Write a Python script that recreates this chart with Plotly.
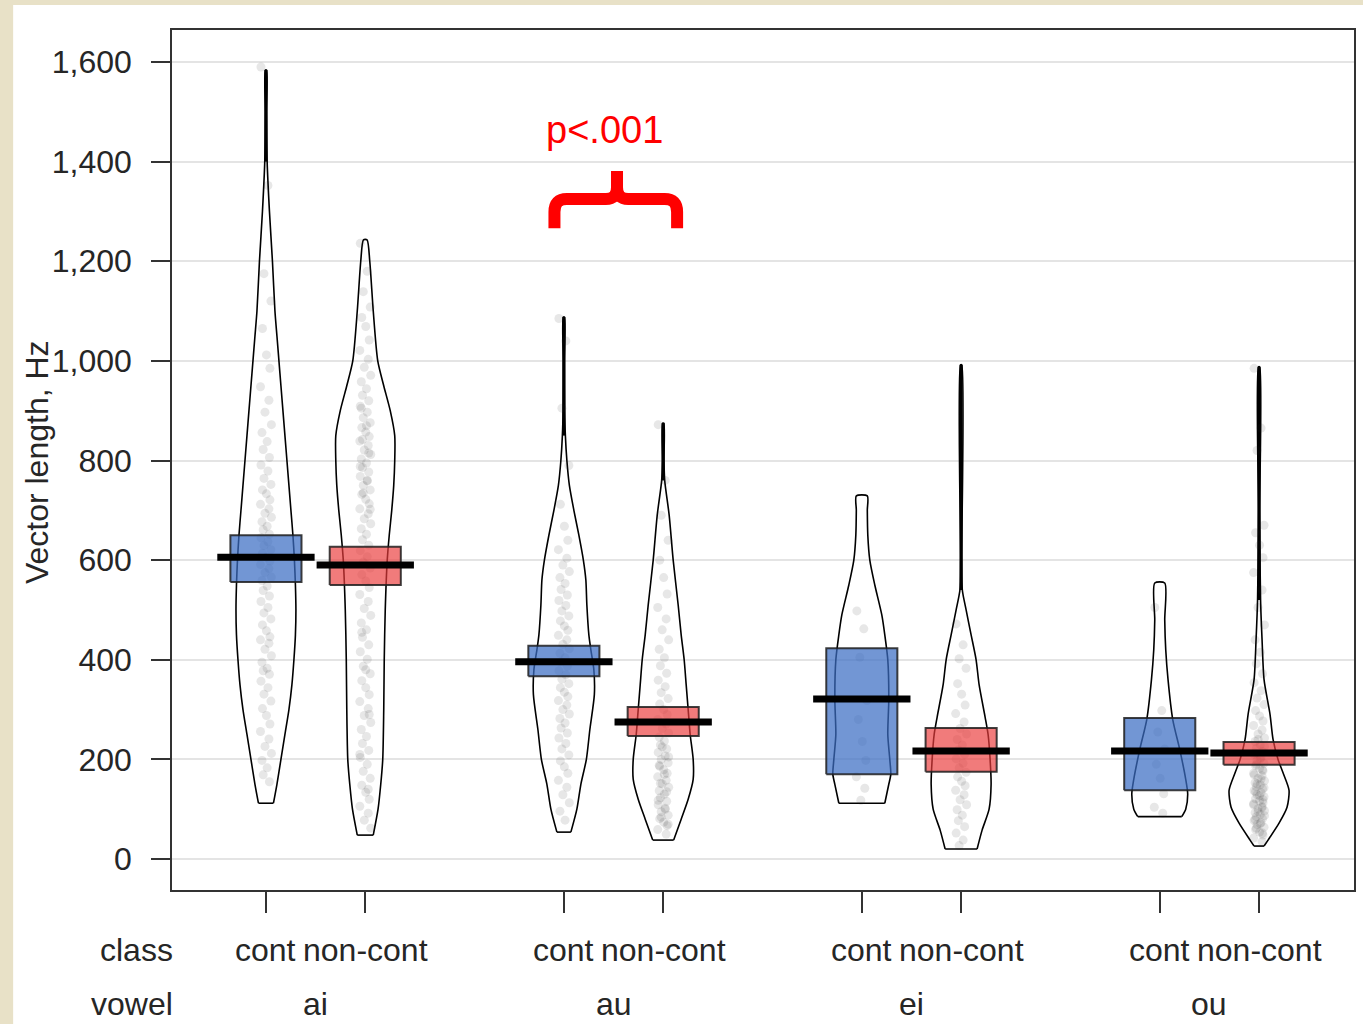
import plotly.graph_objects as go

# ---------------- data ----------------
vowels = ["ai", "au", "ei", "ou"]
classes = ["cont", "non-cont"]
positions = [1, 2, 4, 5, 7, 8, 10, 11]
group_class = ["cont", "non-cont"] * 4

box_low = [556, 550, 367, 247, 170, 175, 138, 189]
box_high = [650, 627, 428, 305, 423, 263, 283, 235]
means = [606, 590, 396, 275, 321, 217, 217, 213]

# violin (bean) density profiles: value levels and half-widths (density, in px-equivalents)
ai_cont_y = [112, 150, 200, 250, 300, 350, 400, 450, 500, 550, 600, 650, 700, 750, 800, 850, 900, 950, 1000, 1050, 1100, 1200, 1300, 1400, 1500, 1584]
ai_cont_d = [7.5, 11, 15, 19, 23, 26, 28, 29.5, 30, 29.5, 28.5, 27, 25, 23, 21, 19, 17, 15, 13, 11, 9, 6.5, 3.5, 1.2, 0.7, 0.6]
ai_non_y = [48, 100, 150, 200, 300, 400, 500, 600, 650, 700, 750, 800, 850, 900, 950, 1000, 1100, 1200, 1243]
ai_non_d = [8, 12.8, 15.5, 17.5, 18.5, 19, 20, 22, 24, 26.5, 28.5, 29.5, 29.5, 25, 18.5, 12.5, 8, 4.5, 1.8]
au_cont_y = [54, 100, 150, 200, 260, 330, 380, 420, 450, 510, 560, 600, 650, 700, 750, 800, 850, 900, 1000, 1088]
au_cont_d = [7, 13, 17, 22.5, 26, 30.5, 30, 27, 25, 23, 22, 19.5, 15, 10, 5.5, 3, 1.5, 0.8, 0.6, 0.6]
au_non_y = [38, 80, 120, 160, 200, 250, 300, 350, 400, 450, 510, 600, 690, 760, 800, 875]
au_non_d = [10.5, 18, 25, 30, 30, 27, 25, 23, 21, 18, 15, 10, 6, 1.5, 0.8, 0.6]
ei_cont_y = [112, 150, 170, 200, 250, 320, 400, 450, 490, 550, 600, 650, 700, 729]
ei_cont_d = [23, 27, 29, 28, 26, 27, 26, 23, 20, 13, 8, 6, 5.5, 5.5]
ei_non_y = [20, 58, 100, 150, 200, 250, 285, 350, 400, 450, 500, 540, 600, 992]
ei_non_d = [16, 21, 28, 30, 29, 27, 24, 18, 15, 10, 5, 1.2, 0.6, 0.6]
ou_cont_y = [85, 100, 130, 160, 220, 280, 360, 420, 480, 554]
ou_cont_d = [22, 26, 28, 26, 20, 13, 8.3, 6, 5, 5]
ou_non_y = [26, 38, 72, 104, 138, 173, 200, 240, 290, 360, 440, 520, 620, 700, 988]
ou_non_d = [5, 9, 20, 28, 30, 24, 19, 14, 11, 5, 3, 1.5, 0.9, 0.6, 0.6]

ai_cont_pts = [1590, 1352, 1175, 1120, 1065, 1012, 985, 948, 921, 897, 872, 856, 838, 822, 806, 791, 779, 764, 752, 741, 733, 721, 712, 703, 694, 686, 677, 668, 661, 652, 645, 637, 629, 621, 614, 606, 598, 591, 583, 575, 566, 559, 548, 539, 528, 517, 505, 494, 482, 470, 458, 446, 440, 433, 421, 408, 395, 383, 378, 371, 357, 344, 331, 317, 302, 288, 271, 256, 241, 226, 212, 198, 183, 169, 155]
ai_non_pts = [1236, 1180, 1139, 1108, 1087, 1069, 1042, 1021, 1003, 987, 971, 958, 944, 931, 920, 909, 897, 886, 876, 866, 857, 848, 839, 830, 821, 812, 803, 795, 786, 777, 768, 759, 750, 741, 732, 722, 713, 703, 693, 683, 673, 663, 652, 641, 630, 619, 607, 596, 584, 571, 558, 545, 531, 517, 503, 489, 474, 460, 445, 430, 416, 401, 387, 372, 358, 344, 330, 316, 302, 288, 274, 260, 246, 232, 218, 204, 190, 176, 162, 148, 134, 120, 106, 92, 78, 62,
              905, 870, 842, 815, 788, 760, 735, 702, 455, 380, 290, 210, 140]
au_cont_pts = [1085, 1040, 905, 790, 712, 668, 640, 621, 604, 590, 577, 565, 553, 541, 530, 519, 509, 498, 488, 478, 468, 459, 449, 440, 431, 422, 413, 404, 396, 387, 378, 370, 361, 352, 344, 335, 326, 318, 309, 300, 291, 282, 273, 263, 253, 243, 232, 221, 209, 197, 185, 172, 158, 144, 129, 113, 96, 78]
au_non_pts = [872, 760, 690, 640, 600, 565, 532, 505, 482, 460, 440, 421, 404, 388, 373, 359, 346, 334, 322, 311, 300, 290, 280, 271, 262, 253, 245, 237, 229, 221, 214, 207, 200, 193, 186, 179, 172, 165, 158, 151, 144, 137, 130, 123, 116, 109, 102, 95, 88, 81, 74, 67, 59, 50, 225, 205, 188, 170, 152, 135, 118, 100, 84, 70]
ei_cont_pts = [498, 462, 405, 318, 280, 236, 198, 165, 142, 118]
ei_non_pts = [472, 430, 402, 383, 352, 331, 309, 292, 275, 262, 251, 240, 229, 219, 210, 201, 192, 183, 174, 165, 156, 147, 138, 129, 119, 109, 99, 88, 77, 65, 52, 38, 27]
ou_cont_pts = [505, 298, 255, 221, 190, 162, 131, 104, 92]
ou_non_pts = [985, 865, 820, 670, 655, 630, 605, 575, 540, 505, 470, 440, 415, 392, 372, 354, 338, 323, 310, 298, 287, 277, 268, 259, 251, 243, 236, 229, 222, 216, 210, 204, 198, 192, 187, 182, 177, 172, 167, 162, 157, 153, 149, 145, 141, 137, 133, 129, 125, 121, 117, 113, 109, 105, 101, 97, 93, 89, 85, 81, 77, 73, 69, 64, 59, 54, 48, 42, 35,
              240, 226, 213, 201, 190, 179, 169, 160, 151, 143, 135, 127, 119, 111, 103, 95, 87, 79, 71, 62, 52]

y_ticks = [0, 200, 400, 600, 800, 1000, 1200, 1400, 1600]
y_title = "Vector length, Hz"
p_text = "p<.001"

# ---------------- style ----------------
FONT = "Liberation Sans, Arial, Helvetica, sans-serif"
TXT = "#262626"
PX_PER_UNIT = 99.4
BOX_HALF = 0.358
MEAN_HALF = 0.49
THIN = 1.6  # density below which a bean collapses to a single line
JITTER = [-0.05, 0.02, -0.02, 0.05, -0.035, 0.005, 0.04, -0.055, 0.03, -0.01, 0.055, -0.04, 0.012, -0.028, 0.035]
FILL = {"cont": "rgba(60,110,195,0.72)", "non-cont": "rgba(235,60,60,0.68)"}

prof_y = [ai_cont_y, ai_non_y, au_cont_y, au_non_y, ei_cont_y, ei_non_y, ou_cont_y, ou_non_y]
prof_d = [ai_cont_d, ai_non_d, au_cont_d, au_non_d, ei_cont_d, ei_non_d, ou_cont_d, ou_non_d]
points = [ai_cont_pts, ai_non_pts, au_cont_pts, au_non_pts, ei_cont_pts, ei_non_pts, ou_cont_pts, ou_non_pts]

fig = go.Figure()

# beans: smooth sides, straight flat bottom, solid line where collapsed
for c, ys, ds in zip(positions, prof_y, prof_d):
    xr = [c + d / PX_PER_UNIT for d in ds]
    xl = [c - d / PX_PER_UNIT for d in ds][::-1]
    fig.add_trace(go.Scatter(x=xr + xl, y=ys + ys[::-1], mode="lines",
                             line=dict(color="black", width=1.6, shape="spline", smoothing=0.7),
                             hoverinfo="skip", showlegend=False))
    fig.add_trace(go.Scatter(x=[xl[-1], xr[0]], y=[ys[0], ys[0]], mode="lines",
                             line=dict(color="black", width=1.6), hoverinfo="skip", showlegend=False))
    thin = [y for y, d in zip(ys, ds) if d <= THIN and y > ys[len(ys) // 2]]
    if len(thin) >= 2:
        fig.add_trace(go.Scatter(x=[c, c], y=[min(thin), max(thin)], mode="lines",
                                 line=dict(color="black", width=3), hoverinfo="skip", showlegend=False))

# points
for c, pts in zip(positions, points):
    xs = [c + JITTER[k % len(JITTER)] for k in range(len(pts))]
    fig.add_trace(go.Scatter(x=xs, y=pts, mode="markers",
                             marker=dict(size=9, color="rgba(40,40,40,0.11)", line=dict(width=0)),
                             hoverinfo="skip", showlegend=False))

# inference boxes
for c, lo, hi, cl in zip(positions, box_low, box_high, group_class):
    fig.add_trace(go.Scatter(x=[c - BOX_HALF, c + BOX_HALF, c + BOX_HALF, c - BOX_HALF, c - BOX_HALF],
                             y=[lo, lo, hi, hi, lo], mode="lines", fill="toself", fillcolor=FILL[cl],
                             line=dict(color="rgba(30,30,30,0.85)", width=2), hoverinfo="skip", showlegend=False))

# mean lines
for c, m in zip(positions, means):
    fig.add_trace(go.Scatter(x=[c - MEAN_HALF, c + MEAN_HALF], y=[m, m], mode="lines",
                             line=dict(color="black", width=7), hoverinfo="skip", showlegend=False))

ROW1, ROW2 = -0.0698, -0.1325
annotations = []
for c, cl in zip(positions, group_class):
    annotations.append(dict(x=c, y=ROW1, xref="x", yref="paper", text=cl, showarrow=False,
                            xanchor="center", yanchor="middle", font=dict(size=32, color=TXT, family=FONT)))
for k, v in enumerate(vowels):
    annotations.append(dict(x=(positions[2 * k] + positions[2 * k + 1]) / 2, y=ROW2, xref="x", yref="paper",
                            text=v, showarrow=False, xanchor="center", yanchor="middle",
                            font=dict(size=32, color=TXT, family=FONT)))
annotations.append(dict(x=0, y=ROW1, xref="paper", yref="paper", text="class", showarrow=False, xshift=3,
                        xanchor="right", yanchor="middle", font=dict(size=32, color=TXT, family=FONT)))
annotations.append(dict(x=0, y=ROW2, xref="paper", yref="paper", text="vowel", showarrow=False, xshift=3,
                        xanchor="right", yanchor="middle", font=dict(size=32, color=TXT, family=FONT)))
annotations.append(dict(x=-0.1141, y=0.4977, xref="paper", yref="paper", text=y_title, textangle=-90,
                        showarrow=False, xanchor="center", yanchor="middle",
                        font=dict(size=32, color=TXT, family=FONT)))
annotations.append(dict(x=4.41, y=1463, xref="x", yref="y", text=p_text, showarrow=False,
                        xanchor="center", yanchor="middle", font=dict(size=38, color="#FF0000", family=FONT)))

# curly brace (annotation decoration)
bl, bm, br = 3.905, 4.535, 5.14
yb, yh, yt = 1266, 1325, 1381
rx, ry = 0.125, 26
brace = (f"M {bl},{yb} L {bl},{yh - ry} Q {bl},{yh} {bl + rx},{yh} L {bm - rx * 0.9},{yh} "
         f"Q {bm},{yh} {bm},{yh + ry * 0.9} L {bm},{yt} "
         f"M {bm},{yh + ry * 0.9} Q {bm},{yh} {bm + rx * 0.9},{yh} L {br - rx},{yh} "
         f"Q {br},{yh} {br},{yh - ry} L {br},{yb}")

shapes = [
    dict(type="rect", xref="paper", yref="paper", x0=-0.1344, x1=1.01, y0=-0.16, y1=1.0291,
         fillcolor="white", line=dict(width=0), layer="below"),
    dict(type="path", xref="x", yref="y", path=brace, line=dict(color="#FF0000", width=12)),
]

fig.update_layout(
    width=1363, height=1024,
    margin=dict(l=172, r=7, t=30, b=134),
    paper_bgcolor="#E8E1C7", plot_bgcolor="white",
    font=dict(family=FONT, color=TXT),
    showlegend=False,
    annotations=annotations, shapes=shapes,
    xaxis=dict(range=[0.054, 11.956], tickvals=positions, showticklabels=False, ticks="outside",
               ticklen=21, tickwidth=1.5, tickcolor="#333", showgrid=False, zeroline=False,
               showline=True, linecolor="#333", linewidth=1.5, mirror=True, fixedrange=True),
    yaxis=dict(range=[-62.2, 1664.2], tickvals=y_ticks, tickformat=",", ticks="outside",
               ticklen=19, tickwidth=1.5, tickcolor="#333", ticklabelstandoff=13,
               tickfont=dict(size=32, color=TXT, family=FONT),
               showgrid=True, gridcolor="#E4E4E4", gridwidth=1.5, zeroline=False,
               showline=True, linecolor="#333", linewidth=1.5, mirror=True, fixedrange=True),
)

fig.write_html("out.html")
